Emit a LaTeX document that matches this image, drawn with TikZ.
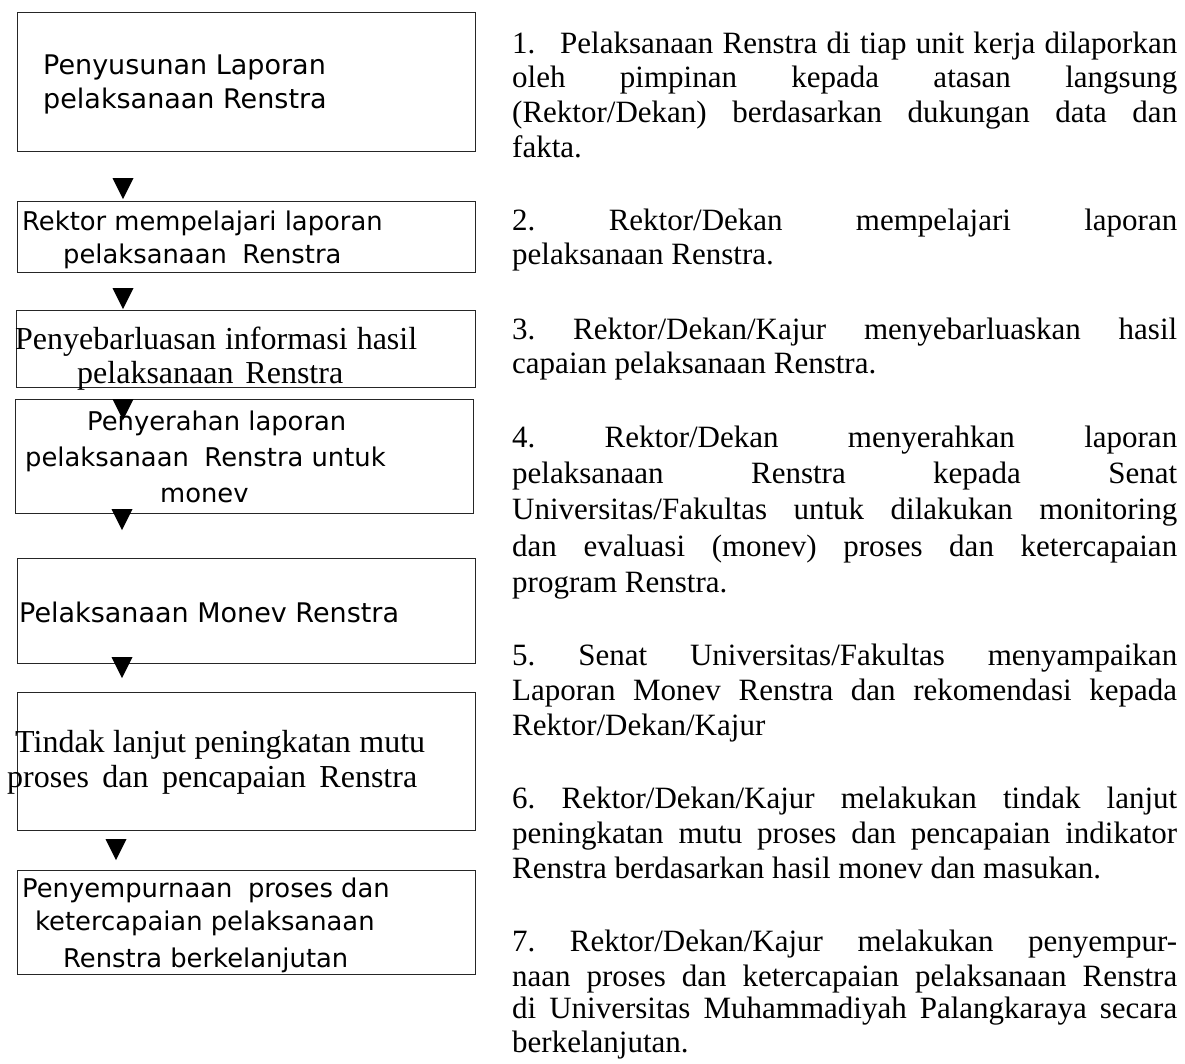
\documentclass[tikz,border=0pt]{standalone}
\usepackage{fontspec}
\setmainfont{Liberation Serif}
\newfontfamily\sansf{DejaVu Sans}
\frenchspacing
\newcommand\jline[1]{\hbox to 665pt{#1}}
\newcommand\wline[2]{\hbox to #1pt{#2}}
\begin{document}
\begin{tikzpicture}[x=1pt,y=-1pt,
  box/.style={draw=black!85, line width=1pt, inner sep=0pt, anchor=north west},
  sl/.style={anchor=base west, inner sep=0pt, font=\sansf\fontsize{25.8}{30}\selectfont},
  slb/.style={anchor=base west, inner sep=0pt, font=\sansf\fontsize{27}{30}\selectfont},
  tl/.style={anchor=base west, inner sep=0pt, font=\fontsize{32}{34}\selectfont},
  rl/.style={anchor=base west, inner sep=0pt, font=\fontsize{31}{34}\selectfont},
  tri/.style={fill=black}]
\useasboundingbox[fill=white] (0,0) rectangle (1185,1063);

% boxes
\node[box, minimum width=458pt, minimum height=139pt] (b1) at (17,12) {};
\node[box, minimum width=458pt, minimum height=71pt]  (b2) at (17,201) {};
\node[box, minimum width=459pt, minimum height=77pt]  (b3) at (16,310) {};
\node[box, minimum width=458pt, minimum height=114pt] (b4) at (15,399) {};
\node[box, minimum width=458pt, minimum height=105pt] (b5) at (17,558) {};
\node[box, minimum width=458pt, minimum height=138pt] (b6) at (17,692) {};
\node[box, minimum width=458pt, minimum height=104pt] (b7) at (17,870) {};

% box texts
\node[slb] (t1a) at (43,74) {Penyusunan Laporan};
\node[slb] (t1b) at (43,108) {pelaksanaan Renstra};
\node[sl] (t2a) at (22,230) {Rektor mempelajari laporan};
\node[sl] (t2b) at (63,263) {pelaksanaan\hspace{0.6em}Renstra};
\node[tl] (t3a) at (15,349) {\wline{402}{Penyebarluasan informasi hasil}};
\node[tl] (t3b) at (77,383) {\wline{266}{pelaksanaan Renstra}};
\node[sl] (t4a) at (87,430) {Penyerahan laporan};
\node[sl] (t4b) at (25,466) {pelaksanaan\hspace{0.6em}Renstra untuk};
\node[sl] (t4c) at (160,502) {monev};
\node[slb] (t5a) at (19,622) {Pelaksanaan Monev Renstra};
\node[tl] (t6a) at (15,752) {\wline{410}{Tindak lanjut peningkatan mutu}};
\node[tl] (t6b) at (7,787) {\wline{410}{proses dan pencapaian Renstra}};
\node[sl] (t7a) at (22,897) {Penyempurnaan\hspace{0.6em}proses dan};
\node[sl] (t7b) at (35,930) {ketercapaian pelaksanaan};
\node[sl] (t7c) at (63,967) {Renstra berkelanjutan};

% arrowheads between boxes
\coordinate (a1) at (123,178);
\coordinate (a2) at (123,288);
\coordinate (a3) at (123,399);
\coordinate (a4) at (122,509);
\coordinate (a5) at (122,657);
\coordinate (a6) at (116,839);
\foreach \a in {a1,a2,a3,a4,a5,a6}{
  \fill[tri] (\a) ++(-10.5,0) -- ++(21,0) -- ++(-10.5,21) -- cycle;
}

% right column
\node[rl] (p1a) at (512,53) {\jline{\makebox[48pt][l]{1.}Pelaksanaan Renstra di tiap unit kerja dilaporkan}};
\node[rl] (p1b) at (512,87) {\jline{oleh pimpinan kepada atasan langsung}};
\node[rl] (p1c) at (512,122) {\jline{(Rektor/Dekan) berdasarkan dukungan data dan}};
\node[rl] (p1d) at (512,157) {fakta.};
\node[rl] (p2a) at (512,230) {\jline{2. Rektor/Dekan mempelajari laporan}};
\node[rl] (p2b) at (512,264) {pelaksanaan Renstra.};
\node[rl] (p3a) at (512,339) {\jline{3. Rektor/Dekan/Kajur menyebarluaskan hasil}};
\node[rl] (p3b) at (512,373) {capaian pelaksanaan Renstra.};
\node[rl] (p4a) at (512,447) {\jline{4. Rektor/Dekan menyerahkan laporan}};
\node[rl] (p4b) at (512,483) {\jline{pelaksanaan Renstra kepada Senat}};
\node[rl] (p4c) at (512,519) {\jline{Universitas/Fakultas untuk dilakukan monitoring}};
\node[rl] (p4d) at (512,556) {\jline{dan evaluasi (monev) proses dan ketercapaian}};
\node[rl] (p4e) at (512,592) {program Renstra.};
\node[rl] (p5a) at (512,665) {\jline{5. Senat Universitas/Fakultas menyampaikan}};
\node[rl] (p5b) at (512,700) {\jline{Laporan Monev Renstra dan rekomendasi kepada}};
\node[rl] (p5c) at (512,735) {Rektor/Dekan/Kajur};
\node[rl] (p6a) at (512,808) {\jline{6. Rektor/Dekan/Kajur melakukan tindak lanjut}};
\node[rl] (p6b) at (512,843) {\jline{peningkatan mutu proses dan pencapaian indikator}};
\node[rl] (p6c) at (512,878) {Renstra berdasarkan hasil monev dan masukan.};
\node[rl] (p7a) at (512,951) {\jline{7. Rektor/Dekan/Kajur melakukan penyempur-}};
\node[rl] (p7b) at (512,986) {\jline{naan proses dan ketercapaian pelaksanaan Renstra}};
\node[rl] (p7c) at (512,1018) {\jline{di Universitas Muhammadiyah Palangkaraya secara}};
\node[rl] (p7d) at (512,1052) {berkelanjutan.};
\end{tikzpicture}
\end{document}
